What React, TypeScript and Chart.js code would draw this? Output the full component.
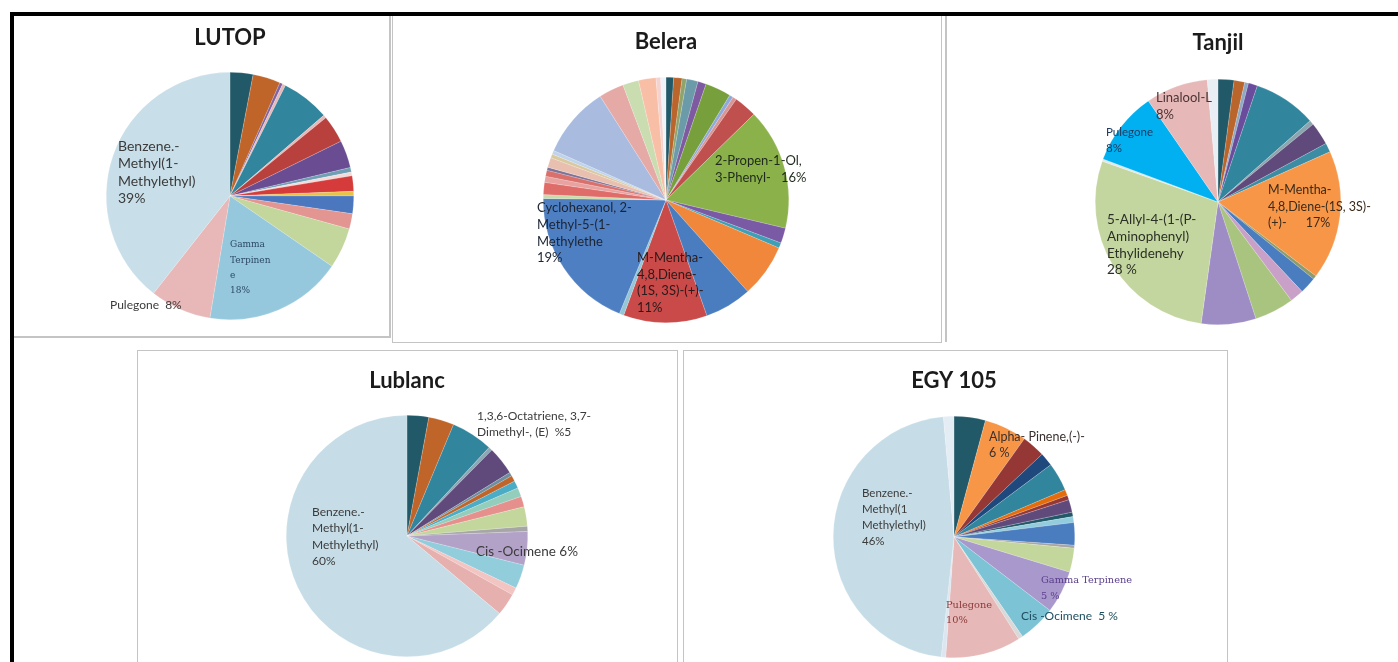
import React, { useEffect, useRef } from "react";
import { Chart, registerables } from "chart.js";

Chart.register(...registerables);

const FONT = "Lato, 'Open Sans', 'DejaVu Sans', sans-serif";
const SERIF = "'DejaVu Serif', 'Liberation Serif', serif";

// ---------------- LUTOP ----------------
const lutopCategories = [
  "C1", "C2", "C3", "C4", "C5", "C6", "C7", "C8", "C9", "C10", "C11", "C12", "C13", "C14", "C15",
  "Gamma Terpinene", "Pulegone", "Benzene.-Methyl(1-Methylethyl)",
];
const lutopValues = [3.0, 3.6, 0.4, 0.4, 6.3, 0.4, 3.6, 3.6, 0.6, 0.5, 2.0, 0.6, 2.3, 2.0, 5.3, 18, 8, 39.4];
const lutopColors = [
  "#215968", "#C0652A", "#8064A2", "#E6B9B8", "#31859C", "#E6B9B8", "#B8403D", "#6A4C93", "#6F9FB5",
  "#F2DCDB", "#D63B3B", "#E8C34A", "#4A77BE", "#E39592", "#C3D69B", "#95C8DC", "#E8B7B7", "#C8DEE8",
];

// ---------------- Belera ----------------
const beleraCategories = [
  "C1", "C2", "C3", "C4", "C5", "C6", "C7", "C8", "C9",
  "2-Propen-1-Ol, 3-Phenyl-", "C11", "C12", "C13", "C14",
  "M-Mentha-4,8,Diene-(1S, 3S)-(+)-", "C16",
  "Cyclohexanol, 2-Methyl-5-(1-Methylethe",
  "C18", "C19", "C20", "C21", "C22", "C23", "C24", "C25",
  "C26", "C27", "C28", "C29", "C30", "C31",
];
const beleraValues = [
  1.0, 1.1, 0.6, 1.5, 1.1, 3.4, 0.5, 0.5, 3.0,
  16, 2.0, 0.7, 7.0, 6.2,
  11, 0.6,
  19,
  0.5, 1.6, 0.8, 0.8, 0.4, 1.3, 0.5, 0.5,
  9.4, 3.3, 2.1, 2.3, 0.6, 0.7,
];
const beleraColors = [
  "#215968", "#B9652C", "#8FA36A", "#6B9BA8", "#7E5AA0", "#77A03C", "#8EA9DB", "#D99694", "#C0504D",
  "#8BB14A", "#7A59A5", "#3FA0B5", "#F0873A", "#4A7CC0",
  "#C94A48", "#94C6D6",
  "#4E7FC2",
  "#C8DBA8", "#E06C6A", "#E8A3A0", "#D9706C", "#7D7399", "#E9C0B0", "#D8C9A0", "#BFD3EA",
  "#A9BCE0", "#E5A9A6", "#C9DDB0", "#F9BFA6", "#F4D2D0", "#EEF3F8",
];

// ---------------- Tanjil ----------------
const tanjilCategories = [
  "C1", "C2", "C3", "C4", "C5", "C6", "C7", "C8",
  "M-Mentha-4,8,Diene-(1S, 3S)-(+)-",
  "C10", "C11", "C12", "C13", "C14",
  "5-Allyl-4-(1-(P-Aminophenyl) Ethylidenehy",
  "C16", "Pulegone", "Linalool-L", "C19",
];
const tanjilValues = [2.1, 1.4, 0.5, 1.2, 8.3, 0.6, 3.0, 1.2, 17, 0.5, 2.2, 1.8, 5.2, 7.2, 28.2, 0.3, 9.7, 8.2, 1.4];
const tanjilColors = [
  "#215968", "#B9652C", "#8EA9C1", "#6A4C9C", "#31859C", "#8CA6B0", "#604A7B", "#3C8DA3",
  "#F79646",
  "#8E9B6A", "#4A7CC0", "#C9A0C8", "#A9C47F", "#9E8DC4",
  "#C4D6A0",
  "#DDE8EF", "#00B0F0", "#E6B9B8", "#E8EEF4",
];

// ---------------- Lublanc ----------------
const lublancCategories = [
  "C1", "C2", "1,3,6-Octatriene, 3,7-Dimethyl-, (E)", "C4", "C5", "C6", "C7", "C8", "C9", "C10",
  "C11", "C12", "Cis -Ocimene", "C14", "C15", "C16", "Benzene.-Methyl(1-Methylethyl)",
];
const lublancValues = [2.9, 3.4, 5.6, 0.5, 3.8, 0.5, 0.8, 1.0, 1.2, 1.4, 2.6, 0.7, 4.5, 3.2, 1.0, 3.0, 63.9];
const lublancColors = [
  "#215968", "#C0652A", "#31859C", "#8DA7B5", "#604A7B", "#6E8FA0", "#C0652A", "#4BACC6", "#93CDBB",
  "#E6908E", "#C3D69B", "#A6A6A6", "#B3A2C7", "#92CDDC", "#F2C4C2", "#E6B0AE", "#C6DDE7",
];

// ---------------- EGY 105 ----------------
const egyCategories = [
  "C1", "Alpha- Pinene,(-)-", "C3", "C4", "C5", "C6", "C7", "C8", "C9", "C10", "C11", "C12", "C13",
  "Gamma Terpinene", "Cis -Ocimene", "C16", "Pulegone", "C18", "Benzene.-Methyl(1 Methylethyl)", "C20",
];
const egyValues = [4.2, 5.7, 3.1, 1.8, 3.8, 0.8, 0.6, 1.7, 0.6, 0.8, 3.0, 0.4, 3.2, 5.7, 5.0, 0.6, 10.1, 0.6, 46.9, 1.4];
const egyColors = [
  "#215968", "#F79646", "#953735", "#1F497D", "#31859C", "#E46C0A", "#953735", "#604A7B", "#215968",
  "#93CDDD", "#4A7CC0", "#A6A6A6", "#C3D69B", "#A898CC", "#7DC3D6", "#D9D9D9", "#E6B9B8", "#DCE6F0",
  "#C6DDE7", "#E4ECF4",
];

type LabelSpec = {
  lines: string[];
  dx: number;
  dy: number;
  size: number;
  lh: number;
  color: string;
  family?: string;
};

type PanelSpec = {
  title: string;
  titleY: number;
  categories: string[];
  values: number[];
  colors: string[];
  box: { x: number; y: number; w: number; h: number };
  cx: number;
  cy: number;
  r: number;
  labels: LabelSpec[];
};

const DARK = "#3b3b3b";

const panels: PanelSpec[] = [
  {
    title: "LUTOP",
    titleY: 38,
    categories: lutopCategories,
    values: lutopValues,
    colors: lutopColors,
    box: { x: 14, y: 16, w: 376, h: 320 },
    cx: 230,
    cy: 196,
    r: 124,
    labels: [
      { lines: ["Benzene.-", "Methyl(1-", "Methylethyl)", "39%"], dx: -112, dy: -50, size: 14, lh: 17.5, color: DARK },
      { lines: ["Gamma", "Terpinen", "e", "18%"], dx: 0, dy: 49, size: 9, lh: 15.3, color: "#2E4A66", family: SERIF },
      { lines: ["Pulegone  8%"], dx: -120, dy: 109, size: 12, lh: 15, color: DARK },
    ],
  },
  {
    title: "Belera",
    titleY: 42,
    categories: beleraCategories,
    values: beleraValues,
    colors: beleraColors,
    box: { x: 394, y: 17, w: 546, h: 324 },
    cx: 666,
    cy: 200,
    r: 123,
    labels: [
      { lines: ["2-Propen-1-Ol,", "3-Phenyl-   16%"], dx: 49, dy: -39, size: 13, lh: 17, color: "#1f2a1c" },
      { lines: ["Cyclohexanol, 2-", "Methyl-5-(1-", "Methylethe", "19%"], dx: -129, dy: 8, size: 13, lh: 16.7, color: "#1c2433" },
      { lines: ["M-Mentha-", "4,8,Diene-", "(1S, 3S)-(+)-", "11%"], dx: -29, dy: 58, size: 13, lh: 16.6, color: "#2a1a1a" },
    ],
  },
  {
    title: "Tanjil",
    titleY: 43,
    categories: tanjilCategories,
    values: tanjilValues,
    colors: tanjilColors,
    box: { x: 948, y: 16, w: 450, h: 324 },
    cx: 1218,
    cy: 202,
    r: 123,
    labels: [
      { lines: ["Linalool-L", "8%"], dx: -62, dy: -104, size: 13, lh: 17, color: "#4a3434" },
      { lines: ["Pulegone", "8%"], dx: -112, dy: -70, size: 11.5, lh: 16.5, color: "#1F3A60" },
      { lines: ["5-Allyl-4-(1-(P-", "Aminophenyl)", "Ethylidenehy", "28 %"], dx: -111, dy: 18, size: 13.5, lh: 16.7, color: "#2b2f25" },
      { lines: ["M-Mentha-", "4,8,Diene-(1S, 3S)-", "(+)-      17%"], dx: 50, dy: -12, size: 12.5, lh: 16.7, color: "#3a2a1a" },
    ],
  },
  {
    title: "Lublanc",
    titleY: 381,
    categories: lublancCategories,
    values: lublancValues,
    colors: lublancColors,
    box: { x: 139, y: 352, w: 537, h: 310 },
    cx: 407,
    cy: 536,
    r: 121,
    labels: [
      { lines: ["1,3,6-Octatriene, 3,7-", "Dimethyl-, (E)  %5"], dx: 70, dy: -120, size: 12, lh: 16, color: DARK },
      { lines: ["Benzene.-", "Methyl(1-", "Methylethyl)", "60%"], dx: -95, dy: -24, size: 12, lh: 16.5, color: DARK },
      { lines: ["Cis -Ocimene 6%"], dx: 69, dy: 16, size: 13.5, lh: 16, color: DARK },
    ],
  },
  {
    title: "EGY 105",
    titleY: 381,
    categories: egyCategories,
    values: egyValues,
    colors: egyColors,
    box: { x: 685, y: 352, w: 541, h: 310 },
    cx: 954,
    cy: 537,
    r: 121,
    labels: [
      { lines: ["Alpha- Pinene,(-)-", "6 %"], dx: 35, dy: -100, size: 12.5, lh: 16, color: "#3a3030" },
      { lines: ["Benzene.-", "Methyl(1", "Methylethyl)", "46%"], dx: -92, dy: -44, size: 11.5, lh: 16.2, color: DARK },
      { lines: ["Gamma Terpinene", "5 %"], dx: 87, dy: 43, size: 9.8, lh: 16, color: "#5B3F8C", family: SERIF },
      { lines: ["Pulegone", "10%"], dx: -8, dy: 68, size: 9.8, lh: 15, color: "#8A3A3A", family: SERIF },
      { lines: ["Cis -Ocimene  5 %"], dx: 67, dy: 79, size: 12, lh: 16, color: "#1F4E5F" },
    ],
  },
];

function PiePanel({ spec }: { spec: PanelSpec }) {
  const ref = useRef<HTMLCanvasElement>(null);
  useEffect(() => {
    const canvas = ref.current;
    if (!canvas) return;
    const { box, cx, cy, r } = spec;
    const padding = {
      left: cx - r - box.x,
      top: cy - r - box.y,
      right: box.x + box.w - (cx + r),
      bottom: box.y + box.h - (cy + r),
    };
    const textPlugin = {
      id: "pieText",
      afterDraw(chart: any) {
        const ctx = chart.ctx as CanvasRenderingContext2D;
        const arc = chart.getDatasetMeta(0).data[0] as any;
        const px = arc.x;
        const py = arc.y;
        ctx.save();
        ctx.font = `bold 22px ${FONT}`;
        ctx.fillStyle = "#1b1b1b";
        ctx.textAlign = "center";
        ctx.textBaseline = "middle";
        ctx.fillText(spec.title, px, spec.titleY - box.y);
        ctx.textAlign = "left";
        spec.labels.forEach((l) => {
          ctx.font = `${l.size}px ${l.family || FONT}`;
          ctx.fillStyle = l.color;
          l.lines.forEach((t, i) => ctx.fillText(t, px + l.dx, py + l.dy + i * l.lh));
        });
        ctx.restore();
      },
    };
    const chart = new Chart(canvas, {
      type: "pie",
      data: {
        labels: spec.categories,
        datasets: [
          {
            data: spec.values,
            backgroundColor: spec.colors,
            borderColor: "rgba(255,255,255,0.35)",
            borderWidth: 0.5,
            hoverOffset: 0,
          },
        ],
      },
      options: {
        responsive: false,
        animation: false,
        devicePixelRatio: 1,
        events: [],
        layout: { padding },
        plugins: {
          legend: { display: false },
          tooltip: { enabled: false },
          title: { display: false },
        },
      },
      plugins: [textPlugin],
    } as any);
    return () => chart.destroy();
  }, [spec]);
  return (
    <canvas
      ref={ref}
      width={spec.box.w}
      height={spec.box.h}
      style={{ position: "absolute", left: spec.box.x, top: spec.box.y, width: spec.box.w, height: spec.box.h }}
    />
  );
}

const GRAY = "#C4C4C4";

export default function App() {
  const abs = (s: React.CSSProperties): React.CSSProperties => ({ position: "absolute", ...s });
  return (
    <div style={{ position: "absolute", left: 0, top: 0, width: 1398, height: 662, background: "#fff", overflow: "hidden" }}>
      {/* panel boxes */}
      <div style={abs({ left: 389, top: 16, width: 2, height: 322, background: GRAY })} />
      <div style={abs({ left: 14, top: 336, width: 377, height: 2, background: GRAY })} />
      <div style={abs({ left: 392, top: 14, width: 548, height: 327, border: `1.5px solid ${GRAY}` })} />
      <div style={abs({ left: 945, top: 16, width: 2, height: 326, background: GRAY })} />
      <div style={abs({ left: 137, top: 350, width: 539, height: 330, border: `1.5px solid ${GRAY}` })} />
      <div style={abs({ left: 683, top: 350, width: 543, height: 330, border: `1.5px solid ${GRAY}` })} />
      {/* black frame */}
      <div style={abs({ left: 10, top: 12, width: 1388, height: 4, background: "#000" })} />
      <div style={abs({ left: 10, top: 12, width: 4, height: 650, background: "#000" })} />
      {panels.map((p) => (
        <PiePanel key={p.title} spec={p} />
      ))}
    </div>
  );
}
